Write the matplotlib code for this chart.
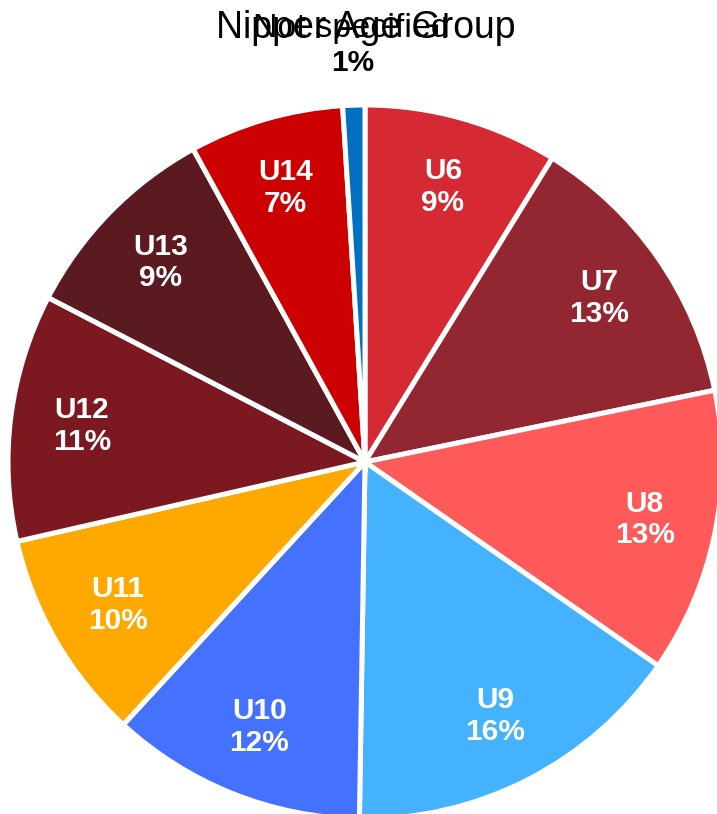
import matplotlib.pyplot as plt
import numpy as np

plt.rcParams['font.family'] = ['Liberation Sans', 'DejaVu Sans']

# share of nippers per age group
groups = ['U6', 'U7', 'U8', 'U9', 'U10', 'U11', 'U12', 'U13', 'U14', 'Not specified']
shares = [8.8, 13.0, 12.9, 15.6, 11.6, 9.6, 11.2, 9.4, 7.0, 1.0]
colors = ['#d52a33', '#922731', '#ff5a5a', '#45b2ff', '#4571ff',
          '#ffa900', '#7b1820', '#5a1a20', '#cc0000', '#0070c0']

W, H = 717, 814
fig = plt.figure(figsize=(W / 100, H / 100), dpi=100)

# pie centre / radius in pixels
cx, cy, r = 365, 462, 357
ax = fig.add_axes([(cx - r) / W, (H - cy - r) / H, 2 * r / W, 2 * r / H])

wedges, _ = ax.pie(shares, colors=colors, startangle=90, counterclock=False,
                   radius=1, wedgeprops=dict(edgecolor='white', linewidth=3.6))
ax.set_xlim(-1, 1)
ax.set_ylim(-1, 1)
ax.axis('off')

total = sum(shares)
for w, name, val in zip(wedges, groups, shares):
    ang = np.deg2rad((w.theta1 + w.theta2) / 2)
    pct = '%.0f%%' % (val / total * 100)
    if val / total < 0.03:
        # tiny slice: label sits outside, above the pie
        ax.text(1.215 * np.cos(ang), 1.215 * np.sin(ang), name, ha='center',
                va='center', fontsize=24.5, color='black', clip_on=False)
        ax.text(1.118 * np.cos(ang), 1.118 * np.sin(ang), pct, ha='center',
                va='center', fontsize=21.5, fontweight='bold', color='black',
                clip_on=False)
    else:
        ax.text(0.8 * np.cos(ang), 0.8 * np.sin(ang), name + '\n' + pct,
                ha='center', va='center', fontsize=21.5, fontweight='bold',
                color='white', linespacing=1.17)

fig.text(366 / W, 1 - 28 / H, 'Nipper Age Group', ha='center', va='center',
         fontsize=27, color='black')

fig.savefig('out.png', dpi=100)
